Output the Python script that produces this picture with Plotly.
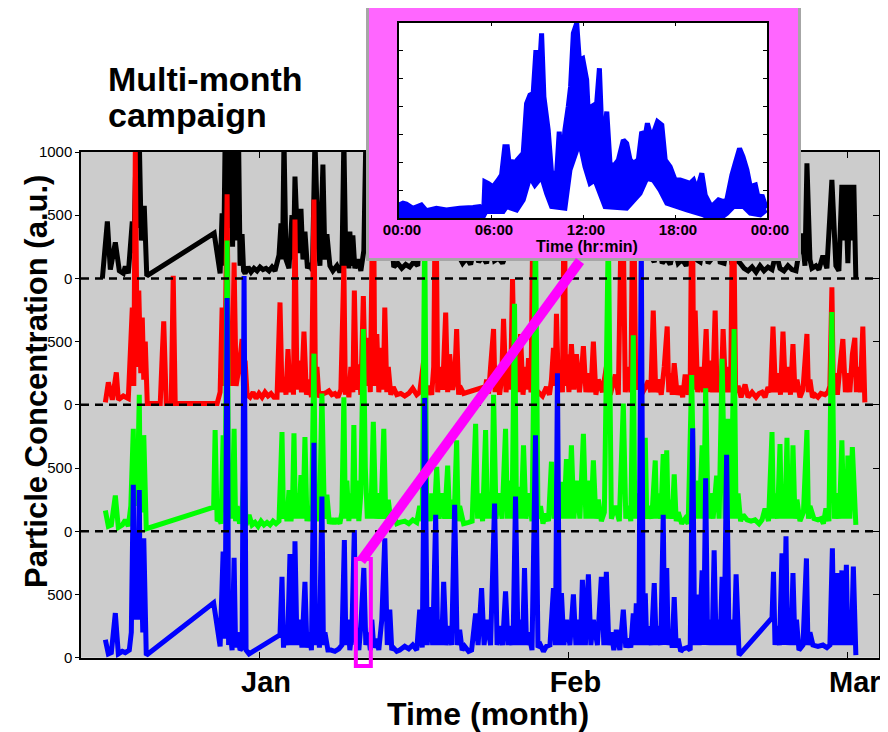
import pandas as pd
import plotly.graph_objects as go

# The page shows the figure with the browser's default 8 px body margin,
# so the figure is 8 px smaller than the window on each leading side.
WIN_W, WIN_H = 888, 732
PAGE_PAD = 8
W, H = WIN_W - PAGE_PAD, WIN_H - PAGE_PAD
JAN1 = pd.Timestamp("2013-01-01")
INSET_DATE = pd.Timestamp("2013-01-11")
FONT = "Liberation Sans, Arial, sans-serif"

# ---------------- data: (day since Jan 1, value in a.u.) ----------------
BLACK = [
    (-15.7, 0), (-15.2, 450), (-14.9, 70), (-14.4, 285), (-14.0, 60), (-13.6, 40), (-13.4, 95), (-13.1, 40),
    (-12.7, 450), (-12.55, 200), (-12.3, 1100), (-12.15, 400), (-12.0, 1100), (-11.8, 300), (-11.5, 575), (-11.25, 20),
    (-4.5, 358), (-3.9, 40), (-3.7, 515), (-3.55, 100), (-3.4, 1100), (-3.25, 300), (-3.1, 1100), (-2.95, 400),
    (-2.8, 1100), (-2.65, 250), (-2.5, 1100), (-2.35, 1100), (-2.2, 300), (-2.05, 1100), (-1.9, 100), (-1.7, 350),
    (-1.55, 60), (-1.4, 40), (-1.1, 90), (-0.8, 50), (-0.5, 80), (-0.2, 60), (0.1, 90), (0.4, 70), (0.7, 80),
    (1.0, 60), (1.3, 90), (1.6, 60), (2.0, 185), (2.2, 435), (2.35, 150), (2.5, 1100), (2.7, 150), (3.0, 80),
    (3.3, 500), (3.45, 150), (3.6, 805), (3.9, 200), (4.2, 550), (4.4, 150), (4.6, 370), (4.85, 80), (5.1, 120),
    (5.35, 60), (5.6, 1100), (5.9, 300), (6.1, 100), (6.4, 900), (6.6, 150), (6.8, 350), (7.1, 100), (7.4, 60),
    (7.8, 100), (8.1, 50), (8.3, 80), (8.5, 1100), (8.7, 100), (8.8, 250), (9.0, 80), (9.1, 370), (9.25, 100),
    (9.4, 340), (9.6, 80), (9.9, 150), (10.2, 60), (10.5, 220), (10.7, 1100), (10.9, 200),
    (11.2, 600), (11.5, 150), (11.8, 700), (12.1, 200), (12.4, 500), (12.8, 150), (13.2, 400), (13.5, 90),
    (13.9, 120), (14.3, 80), (14.7, 110), (15.1, 90), (15.5, 130), (15.9, 100), (16.2, 500), (16.5, 150),
    (16.8, 800), (17.1, 200), (17.4, 600), (17.7, 200), (18.0, 450), (18.4, 180), (18.8, 550), (19.2, 200),
    (19.6, 400), (20.0, 180), (20.4, 120), (20.8, 160), (21.2, 110), (21.6, 250), (22.0, 130), (22.4, 170),
    (22.8, 120), (23.2, 300), (23.6, 140), (24.0, 160), (24.4, 120), (24.8, 200), (25.2, 500), (25.5, 200),
    (25.9, 650), (26.3, 250), (26.7, 450), (27.1, 200), (27.5, 600), (27.9, 230), (28.3, 400), (28.7, 200),
    (29.1, 700), (29.5, 250), (29.9, 500), (30.3, 220), (30.7, 450), (31.1, 250), (31.5, 600), (31.9, 200),
    (32.3, 500), (32.7, 230), (33.1, 400), (33.5, 200), (33.9, 550), (34.3, 250), (34.7, 450), (35.1, 200),
    (35.5, 500), (35.9, 220), (36.3, 600), (36.7, 250), (37.1, 500), (37.5, 200), (37.9, 450), (38.3, 250),
    (38.7, 500), (39.1, 200), (39.6, 130), (40.0, 300), (40.4, 120), (40.8, 160), (41.2, 110), (41.6, 250),
    (42.0, 120), (42.4, 150), (42.8, 100), (43.2, 200), (43.5, 400), (43.8, 150), (44.2, 130), (44.6, 300),
    (45.0, 120), (45.4, 160), (45.8, 350), (46.2, 130), (46.6, 120), (47.0, 300), (47.4, 110), (47.8, 150),
    (48.2, 120), (48.6, 80), (49.0, 60), (49.4, 90), (49.8, 50), (50.2, 100), (50.6, 60), (51.0, 90),
    (51.4, 70), (51.8, 200), (52.2, 80), (52.6, 60), (53.0, 100), (53.4, 70), (53.8, 60),
    (54.4, 355), (54.7, 100), (54.9, 910), (55.2, 150), (55.4, 80), (55.8, 100), (56.1, 70), (56.5, 180),
    (56.9, 80), (57.4, 780), (57.8, 100), (58.1, 60), (58.4, 740), (58.6, 300), (58.75, 740), (59.0, 120),
    (59.2, 740), (59.4, 300), (59.6, 740), (59.8, 0),
]

RED = [
    (-15.4, 20), (-15.1, 178), (-14.7, 40), (-14.3, 257), (-14.1, 40), (-13.6, 70), (-13.1, 50), (-12.7, 770),
    (-12.55, 150), (-12.4, 2000), (-12.2, 300), (-12.05, 905), (-11.85, 250), (-11.7, 690), (-11.55, 200),
    (-11.4, 500), (-11.2, 10), (-9.9, 10), (-9.7, 400), (-9.55, 660), (-9.3, 10), (-8.8, 10), (-8.6, 1020),
    (-8.4, 10), (-4.2, 10), (-3.9, 100), (-3.7, 770), (-3.45, 150), (-3.2, 1665), (-3.05, 200), (-2.9, 520),
    (-2.7, 150), (-2.5, 1125), (-2.3, 150), (-2.0, 300), (-1.7, 520), (-1.55, 120), (-1.4, 350), (-1.2, 80),
    (-0.9, 60), (-0.6, 100), (-0.3, 50), (0.0, 90), (0.3, 60), (0.6, 100), (0.9, 70), (1.2, 90), (1.5, 60),
    (1.8, 60), (2.1, 810), (2.3, 100), (2.5, 220), (2.7, 80), (2.9, 440), (3.1, 100), (3.3, 300), (3.45, 80),
    (3.6, 1465), (3.8, 120), (4.0, 350), (4.25, 100), (4.5, 580), (4.75, 80), (5.0, 200), (5.25, 60),
    (5.5, 1625), (5.65, 120), (5.8, 300), (6.0, 60), (6.2, 90), (6.5, 90), (6.8, 100), (7.0, 110), (7.3, 80),
    (7.6, 90), (7.9, 60), (8.2, 120), (8.5, 1100), (8.65, 80), (8.8, 200), (9.0, 60), (9.2, 300), (9.4, 100),
    (9.55, 905), (9.75, 120), (10.0, 320), (10.2, 80), (10.45, 860), (10.65, 150), (10.8, 400), (10.95, 530),
    (11.15, 100), (11.45, 2000), (11.6, 150), (11.8, 560), (12.0, 100), (12.3, 450), (12.45, 120), (12.6, 770),
    (12.8, 100), (12.95, 300), (13.2, 80), (13.45, 140), (13.8, 80), (14.2, 90), (14.6, 70), (15.0, 90),
    (15.4, 130), (15.8, 80), (16.1, 100), (16.5, 350), (16.75, 80), (17.0, 150), (17.3, 80), (17.5, 300),
    (17.7, 2000), (17.9, 100), (18.1, 300), (18.4, 120), (18.7, 730), (18.9, 100), (19.1, 400), (19.4, 120),
    (19.6, 200), (19.8, 600), (20.0, 80), (20.1, 150), (20.5, 90),
    (22.3, 135), (22.6, 80), (22.8, 200), (23.0, 90), (23.2, 300), (23.5, 600), (23.65, 100), (23.8, 300),
    (24.1, 80), (24.3, 200), (24.5, 680), (24.75, 100), (25.0, 350), (25.2, 120), (25.4, 995), (25.6, 120),
    (25.8, 400), (26.0, 100), (26.2, 560), (26.45, 80), (26.7, 300), (26.85, 120), (27.0, 370), (27.25, 100),
    (27.5, 2000), (27.75, 80), (28.0, 100), (28.4, 70), (28.8, 140), (29.1, 80), (29.3, 200), (29.5, 450),
    (29.65, 150), (29.8, 720), (30.0, 120), (30.2, 300), (30.4, 100), (30.6, 2000), (30.7, 150), (30.8, 400),
    (31.05, 100), (31.3, 480), (31.55, 120), (31.8, 400), (32.1, 100), (32.3, 250), (32.5, 465), (32.75, 100),
    (33.0, 250), (33.25, 100), (33.5, 500), (33.75, 80), (34.0, 200), (34.4, 100), (34.8, 300), (35.2, 80),
    (35.7, 240), (36.0, 80), (36.4, 2000), (36.7, 100), (37.0, 300), (37.25, 100), (37.5, 2000), (37.75, 120),
    (38.0, 300), (38.3, 80), (38.6, 120), (39.0, 190), (39.25, 100), (39.5, 745), (39.75, 100), (40.0, 200),
    (40.3, 80), (40.6, 300), (40.9, 620), (41.05, 100), (41.2, 250), (41.4, 80), (41.6, 330), (41.9, 80),
    (42.2, 150), (42.45, 60), (42.7, 240), (43.0, 80), (43.2, 150), (43.4, 2000), (43.55, 120), (43.7, 745),
    (43.95, 100), (44.2, 300), (44.5, 100), (44.8, 600), (45.0, 100), (45.2, 350), (45.45, 100), (45.7, 745),
    (45.9, 100), (46.1, 200), (46.3, 100), (46.5, 600), (46.75, 100), (47.0, 300), (47.25, 100), (47.5, 2000),
    (47.75, 100), (48.0, 150), (48.3, 60), (48.7, 160), (49.0, 60), (49.4, 100), (49.8, 60), (50.1, 90),
    (50.4, 100), (50.7, 60), (51.0, 140), (51.25, 100), (51.5, 620), (51.75, 100), (52.0, 250), (52.25, 80),
    (52.5, 580), (52.75, 100), (53.0, 300), (53.25, 80), (53.5, 480), (53.7, 100), (53.9, 200), (54.2, 60),
    (54.5, 120), (54.9, 560), (55.05, 100), (55.2, 200), (55.45, 60), (55.7, 80), (56.0, 60), (56.3, 90),
    (56.7, 80), (57.0, 100), (57.2, 150), (57.4, 930), (57.55, 100), (57.7, 250), (57.95, 80), (58.2, 300),
    (58.5, 520), (58.75, 100), (59.0, 250), (59.2, 100), (59.45, 400), (59.7, 530), (59.85, 100), (60.0, 300),
    (60.25, 100), (60.5, 620), (60.7, 20),
]

GREEN = [
    (-15.4, 165), (-15.1, 40), (-14.8, 50), (-14.4, 283), (-14.1, 30), (-13.7, 50), (-13.4, 90), (-13.1, 40),
    (-12.85, 200), (-12.6, 810), (-12.5, 200), (-12.4, 700), (-12.2, 250), (-12.0, 1080), (-11.9, 200),
    (-11.8, 600), (-11.65, 150), (-11.55, 760), (-11.3, 20),
    (-4.55, 190), (-4.4, 800), (-4.2, 80), (-4.0, 100), (-3.8, 60), (-3.6, 760), (-3.4, 150), (-3.2, 2300),
    (-3.05, 150), (-2.9, 300), (-2.7, 100), (-2.5, 810), (-2.35, 80), (-2.2, 200), (-1.95, 60), (-1.7, 150),
    (-1.5, 500), (-1.3, 50), (-1.0, 130), (-0.7, 50), (-0.4, 70), (-0.1, 40), (0.2, 80), (0.5, 50), (0.8, 70),
    (1.1, 50), (1.4, 80), (1.7, 60), (2.0, 80), (2.3, 785), (2.45, 100), (2.6, 200), (2.8, 80), (3.0, 325),
    (3.2, 80), (3.35, 200), (3.5, 775), (3.65, 100), (3.8, 300), (4.0, 100), (4.2, 445), (4.4, 100), (4.6, 745),
    (4.8, 80), (5.0, 200), (5.25, 80), (5.5, 1405), (5.65, 100), (5.8, 300), (6.05, 80), (6.3, 1090),
    (6.55, 100), (6.8, 290), (7.05, 60), (7.3, 100), (7.55, 60), (7.8, 100), (8.1, 60), (8.3, 150), (8.5, 1060),
    (8.65, 100), (8.8, 400), (9.0, 80), (9.2, 300), (9.35, 100), (9.5, 840), (9.65, 100), (9.8, 400), (10.0, 80),
    (10.2, 300), (10.45, 1600), (10.65, 500), (10.85, 100), (11.0, 300), (11.2, 100), (11.45, 865), (11.7, 100),
    (11.95, 300), (12.2, 100), (12.5, 810), (12.7, 100), (12.95, 250), (13.2, 80), (13.45, 150), (13.8, 60),
    (14.1, 70), (14.6, 80), (15.0, 60), (15.4, 90), (15.8, 70), (16.1, 200), (16.35, 80), (16.6, 2400),
    (16.8, 100), (17.0, 200), (17.15, 80), (17.3, 300), (17.55, 100), (17.8, 510), (18.05, 100), (18.3, 300),
    (18.6, 100), (18.9, 520), (19.1, 100), (19.3, 250), (19.55, 100), (19.8, 720), (19.95, 80), (20.1, 200),
    (20.5, 60), (21.0, 70), (21.35, 80), (21.7, 850), (21.9, 100), (22.1, 300), (22.4, 80), (22.7, 800),
    (22.9, 100), (23.1, 300), (23.3, 100), (23.5, 1080), (23.75, 100), (24.0, 300), (24.35, 100), (24.7, 810),
    (24.9, 100), (25.1, 400), (25.35, 100), (25.6, 1800), (25.8, 100), (26.0, 350), (26.25, 100), (26.5, 680),
    (26.75, 100), (27.0, 300), (27.35, 80), (27.7, 2400), (27.95, 100), (28.2, 200), (28.45, 60), (28.7, 140),
    (29.0, 80), (29.3, 550), (29.55, 100), (29.8, 300), (30.05, 100), (30.3, 390), (30.55, 100), (30.8, 570),
    (31.05, 100), (31.3, 680), (31.55, 100), (31.8, 400), (32.15, 100), (32.5, 770), (32.75, 100), (33.0, 400),
    (33.25, 100), (33.5, 560), (33.75, 100), (34.0, 250), (34.3, 80), (34.6, 150), (35.0, 2400), (35.3, 100),
    (35.7, 200), (36.1, 80), (36.5, 1010), (36.75, 100), (37.0, 200), (37.25, 80), (37.5, 1550), (37.65, 100),
    (37.8, 300), (38.0, 100), (38.25, 250), (38.45, 100), (38.7, 740), (38.85, 100), (39.0, 200), (39.35, 100),
    (39.7, 560), (39.85, 100), (40.0, 300), (40.25, 100), (40.5, 610), (40.65, 100), (40.85, 640), (41.0, 100),
    (41.2, 250), (41.4, 100), (41.6, 450), (41.8, 80), (42.0, 150), (42.35, 60), (42.7, 100), (43.0, 60),
    (43.35, 1235), (43.6, 100), (43.85, 400), (44.1, 100), (44.4, 680), (44.55, 100), (44.75, 1130), (45.0, 100),
    (45.2, 300), (45.5, 100), (45.85, 440), (46.1, 100), (46.4, 1365), (46.7, 100), (47.0, 890), (47.3, 100),
    (47.6, 1600), (47.8, 100), (48.0, 300), (48.25, 80), (48.5, 130), (48.9, 90), (49.3, 80), (49.7, 90),
    (50.1, 60), (50.4, 90), (50.7, 180), (51.05, 80), (51.4, 785), (51.55, 100), (51.7, 300), (51.95, 100),
    (52.2, 690), (52.35, 100), (52.5, 300), (52.7, 100), (52.9, 740), (53.05, 100), (53.2, 250), (53.35, 100),
    (53.5, 680), (53.7, 100), (53.9, 250), (54.2, 80), (54.55, 150), (54.9, 800), (55.05, 100), (55.2, 200),
    (55.6, 100), (56.0, 90), (56.3, 100), (56.55, 60), (56.8, 180), (57.1, 80), (57.4, 1735), (57.65, 100),
    (57.9, 300), (58.15, 100), (58.4, 720), (58.6, 100), (58.8, 300), (58.9, 100), (59.0, 600), (59.2, 100),
    (59.45, 665), (59.8, 50),
]

BLUE = [
    (-15.4, 142), (-15.1, 30), (-14.8, 40), (-14.4, 353), (-14.1, 30), (-13.7, 50), (-13.4, 40), (-13.0, 60),
    (-12.8, 200), (-12.6, 1367), (-12.5, 300), (-12.4, 800), (-12.2, 300), (-12.0, 1327), (-11.9, 300),
    (-11.8, 700), (-11.65, 200), (-11.55, 945), (-11.3, 20),
    (-4.55, 434), (-3.9, 90), (-3.6, 840), (-3.4, 150), (-3.2, 2845), (-3.05, 100), (-2.9, 200), (-2.7, 60),
    (-2.5, 790), (-2.35, 80), (-2.2, 200), (-1.9, 60), (-1.7, 80), (-1.5, 3020), (-1.3, 60), (-1.0, 30),
    (2.1, 180), (2.3, 640), (2.45, 80), (2.6, 250), (2.85, 100), (3.1, 820), (3.25, 100), (3.4, 300), (3.5, 100),
    (3.6, 920), (3.8, 100), (4.0, 300), (4.3, 80), (4.6, 600), (4.8, 80), (5.0, 200), (5.25, 60), (5.5, 1700),
    (5.65, 100), (5.8, 300), (6.05, 80), (6.3, 1275), (6.45, 100), (6.6, 200), (6.9, 60), (7.2, 60), (7.6, 50),
    (8.0, 70), (8.3, 100), (8.55, 930), (8.7, 100), (8.9, 300), (9.1, 60), (9.3, 200), (9.55, 1010), (9.7, 100),
    (9.8, 200), (10.0, 60), (10.2, 250), (10.5, 710), (10.7, 100), (10.95, 200), (11.15, 60), (11.3, 300),
    (11.5, 80), (11.8, 150), (12.0, 60), (12.3, 300), (12.6, 945), (12.85, 100), (13.1, 380), (13.3, 60),
    (13.45, 80), (13.8, 50), (14.1, 60), (14.6, 90), (15.0, 70), (15.4, 100), (15.8, 60), (16.1, 380),
    (16.35, 80), (16.6, 2055), (16.85, 100), (17.1, 400), (17.4, 100), (17.7, 1130), (17.9, 100), (18.1, 300),
    (18.3, 100), (18.5, 600), (18.75, 100), (19.0, 250), (19.3, 100), (19.6, 1210), (19.85, 100), (20.1, 220),
    (20.35, 60), (20.6, 90), (21.0, 50), (21.3, 60), (21.7, 350), (21.95, 100), (22.3, 550), (22.55, 100),
    (22.8, 300), (23.2, 100), (23.6, 1220), (23.85, 100), (24.1, 250), (24.4, 100), (24.7, 525), (24.95, 100),
    (25.2, 250), (25.45, 100), (25.7, 1275), (25.95, 100), (26.2, 300), (26.4, 100), (26.6, 710), (26.8, 100),
    (27.0, 200), (27.35, 60), (27.7, 1760), (27.95, 80), (28.2, 100), (28.5, 50), (28.8, 90), (29.15, 100),
    (29.5, 550), (29.7, 100), (29.9, 2250), (30.1, 100), (30.3, 510), (30.55, 100), (30.8, 300), (31.15, 100),
    (31.5, 500), (31.75, 100), (32.0, 300), (32.2, 100), (32.4, 615), (32.7, 100), (33.0, 660), (33.25, 100),
    (33.5, 300), (33.9, 100), (34.3, 640), (34.55, 100), (34.8, 680), (35.05, 100), (35.3, 200), (35.55, 60),
    (35.8, 220), (36.15, 60), (36.5, 380), (36.75, 80), (37.0, 150), (37.25, 80), (37.5, 350), (37.65, 100),
    (37.8, 430), (38.05, 100), (38.3, 3300), (38.5, 100), (38.7, 510), (38.85, 100), (39.0, 250), (39.3, 100),
    (39.6, 590), (39.8, 100), (40.0, 250), (40.25, 100), (40.5, 1130), (40.65, 100), (40.85, 710), (41.0, 100),
    (41.2, 200), (41.4, 80), (41.6, 480), (41.8, 80), (42.0, 150), (42.25, 50), (42.5, 70), (42.9, 80),
    (43.2, 60), (43.45, 1815), (43.65, 100), (43.85, 500), (44.1, 100), (44.4, 690), (44.55, 100), (44.75, 1420),
    (44.95, 100), (45.2, 300), (45.4, 100), (45.6, 850), (45.8, 100), (46.0, 300), (46.2, 100), (46.4, 640),
    (46.6, 100), (46.85, 1605), (47.1, 100), (47.4, 300), (47.6, 100), (47.8, 660), (48.1, 20),
    (51.4, 315), (51.55, 680), (51.7, 100), (51.9, 250), (52.15, 100), (52.4, 825), (52.6, 100), (52.8, 960),
    (52.95, 100), (53.1, 300), (53.3, 100), (53.5, 670), (53.7, 100), (53.85, 300), (54.1, 60), (54.5, 100),
    (54.85, 785), (55.0, 100), (55.2, 200), (55.5, 100), (56.0, 90), (56.5, 100), (56.9, 80), (57.2, 100),
    (57.45, 865), (57.6, 100), (57.9, 670), (58.1, 100), (58.4, 690), (58.6, 100), (58.85, 735), (59.0, 100),
    (59.2, 300), (59.35, 100), (59.55, 720), (59.8, 20),
]

# inset (one day, blue): upper and lower envelope of the dense record
INSET_UP_HOURS = [0.00, 0.26, 0.48, 0.91, 1.46, 1.79, 2.44, 3.09, 3.96, 4.83, 5.27, 5.53, 5.60, 5.81, 6.14,
                  6.47, 6.69, 6.90, 7.06, 7.23, 7.45, 7.56, 7.71, 8.10, 8.32, 8.54, 8.75, 8.93, 9.08, 9.30,
                  9.45, 9.73, 9.95, 10.28, 10.45, 10.61, 10.82, 11.04, 11.19, 11.37, 11.59, 11.76, 11.98,
                  12.24, 12.35, 12.57, 12.89, 13.07, 13.28, 13.55, 13.76, 13.98, 14.31, 14.63, 14.85, 15.07,
                  15.29, 15.61, 15.83, 16.05, 16.20, 16.38, 16.59, 16.86, 17.14, 17.36, 17.68, 18.01, 18.34,
                  18.66, 18.99, 19.21, 19.43, 19.75, 19.97, 20.30, 20.51, 20.84, 21.17, 21.38, 21.71, 21.93,
                  22.21, 22.43, 22.69, 22.91, 23.24, 23.45, 23.67, 23.95]
INSET_UP_VALS = [48, 54, 51, 36, 48, 27, 36, 30, 36, 39, 42, 32, 131, 125, 113,
                 137, 155, 256, 256, 173, 209, 78, 209, 233, 411, 441, 447, 602, 459, 662,
                 435, 316, 161, 161, 310, 173, 316, 400, 471, 662, 698, 566, 572,
                 495, 370, 400, 411, 537, 233, 382, 197, 185, 209, 280, 268, 209,
                 197, 209, 310, 292, 340, 304, 304, 346, 334, 209, 185, 137, 137,
                 131, 125, 137, 101, 161, 83, 48, 48, 66, 60, 66, 155, 197,
                 250, 221, 173, 113, 119, 66, 83, 36]
INSET_LO_HOURS = [0.00, 5.49, 5.66, 6.79, 7.01, 7.67, 8.10, 8.54, 8.86, 9.30, 9.63, 9.95, 10.82, 11.15,
                  11.59, 11.85, 12.13, 12.46, 12.78, 13.11, 13.44, 14.85, 15.72, 16.16, 16.59, 17.03, 17.47,
                  18.77, 19.86, 20.30, 20.95, 21.38, 21.82, 22.47, 22.91, 23.56, 23.95]
INSET_LO_VALS = [4, 6, 24, 24, 42, 30, 66, 149, 119, 149, 89, 42, 36, 173,
                 244, 256, 185, 125, 137, 89, 42, 36, 89, 143, 137, 101, 54,
                 30, 12, 0, 0, 18, 42, 42, 18, 12, 30]

SERIES = [  # name, data, vertical offset of the panel, colour  (drawn in this order)
    ("black", BLACK, 3000, "#000000"),
    ("red", RED, 2000, "#FF0000"),
    ("green", GREEN, 1000, "#00FF00"),
    ("blue", BLUE, 0, "#0000FF"),
]
Y_TICKVALS = [0, 500, 1000, 1500, 2000, 2500, 3000, 3500, 4000]
Y_TICKTEXT = ["0", "500", "0", "500", "0", "500", "0", "500", "1000"]
PANEL_ZEROS = [1000, 2000, 3000]
MONTH_TICKS = ["2013-01-01", "2013-02-01", "2013-03-01"]
MONTH_LABELS = ["Jan", "Feb", "Mar"]
INSET_TICK_HOURS = [0, 6, 12, 18, 24]
INSET_TICK_LABELS = ["00:00", "06:00", "12:00", "18:00", "00:00"]
X_RANGE_DAYS = (-17.84, 62.12)

# ---------------- layout geometry (window pixels) ----------------
MAIN_PX = (81, 879, 152, 657.7)       # left, right, top, bottom
FRAME_PX = (369, 798, 4, 258)
INSET_PX = (399, 767, 22.7, 218.3)


def clamp01(v):
    return min(1.0, max(0.0, v))


def fx(px):
    return (px - PAGE_PAD) / W


def fy(py):
    return (H - (py - PAGE_PAD)) / H


def dom(box):
    l, r, t, b = box
    return [clamp01(fx(l)), clamp01(fx(r))], [clamp01(fy(b)), clamp01(fy(t))]


def days_to_dates(days):
    return JAN1 + pd.to_timedelta(list(days), unit="D")


def day_to_px(day):
    l, r, _, _ = MAIN_PX
    return l + (day - X_RANGE_DAYS[0]) / (X_RANGE_DAYS[1] - X_RANGE_DAYS[0]) * (r - l)


fig = go.Figure()

for name, data, off, col in SERIES:
    d = [p[0] for p in data]
    v = [p[1] + off for p in data]
    fig.add_trace(go.Scatter(x=days_to_dates(d), y=v, mode="lines", name=name,
                             line=dict(color=col, width=5, simplify=False),
                             xaxis="x", yaxis="y", hoverinfo="skip"))

# right-hand inner ticks of the main panel
fig.add_trace(go.Scatter(x=[], y=[], xaxis="x", yaxis="y4", showlegend=False, hoverinfo="skip"))
# pink frame subplot
fig.add_trace(go.Scatter(x=[], y=[], xaxis="x2", yaxis="y2", showlegend=False, hoverinfo="skip"))

inset_up_t = INSET_DATE + pd.to_timedelta(INSET_UP_HOURS, unit="h")
inset_lo_t = INSET_DATE + pd.to_timedelta(INSET_LO_HOURS, unit="h")
fig.add_trace(go.Scatter(x=inset_lo_t, y=INSET_LO_VALS, mode="lines", xaxis="x3", yaxis="y3",
                         line=dict(color="#0000FF", width=5, simplify=False), hoverinfo="skip"))
fig.add_trace(go.Scatter(x=inset_up_t, y=INSET_UP_VALS, mode="lines", xaxis="x3", yaxis="y3",
                         fill="tonexty", fillcolor="#0000FF",
                         line=dict(color="#0000FF", width=5, simplify=False), hoverinfo="skip"))

mx, my = dom(MAIN_PX)
frx, fry = dom(FRAME_PX)
ix, iy = dom(INSET_PX)

axis_common = dict(showgrid=False, zeroline=False, automargin=False)
fig.update_layout(
    width=W, height=H, margin=dict(l=0, r=0, t=0, b=0, autoexpand=False),
    paper_bgcolor="white", plot_bgcolor="white", showlegend=False,
    font=dict(family=FONT, color="black"),
    xaxis=dict(domain=mx, anchor="y", type="date",
               range=list(days_to_dates(X_RANGE_DAYS)),
               tickvals=MONTH_TICKS, ticktext=MONTH_LABELS,
               ticks="inside", ticklen=6, tickwidth=1.2, tickcolor="black",
               showline=True, linecolor="black", linewidth=1.5, mirror="ticks",
               tickfont=dict(size=29, weight="bold", family=FONT), ticklabelshift=7,
               ticklabelstandoff=-2, **axis_common),
    yaxis=dict(domain=my, anchor="x", range=[0, 4000],
               tickvals=Y_TICKVALS, ticktext=Y_TICKTEXT,
               ticks="outside", ticklen=4, tickwidth=1.2, tickcolor="black",
               showline=True, linecolor="black", linewidth=1.5, mirror=True,
               tickfont=dict(size=15, family=FONT), **axis_common),
    yaxis4=dict(overlaying="y", anchor="x", side="right", range=[0, 4000],
                tickvals=Y_TICKVALS, ticks="inside", ticklen=6, tickwidth=1.2, tickcolor="black",
                showticklabels=False, showline=False, **axis_common),
    xaxis2=dict(domain=frx, anchor="y2", range=[0, 1], showticklabels=False, ticks="",
                showline=True, linecolor="#A6A6A6", linewidth=3, mirror=True, **axis_common),
    yaxis2=dict(domain=fry, anchor="x2", range=[0, 1], showticklabels=False, ticks="",
                showline=True, linecolor="#A6A6A6", linewidth=3, mirror=True, **axis_common),
    xaxis3=dict(domain=ix, anchor="y3", type="date",
                range=[INSET_DATE, INSET_DATE + pd.Timedelta(days=1)],
                tickvals=list(INSET_DATE + pd.to_timedelta(INSET_TICK_HOURS, unit="h")),
                ticktext=INSET_TICK_LABELS, ticks="inside", ticklen=4, tickcolor="black",
                showline=True, linecolor="black", linewidth=1.5, mirror="ticks",
                tickfont=dict(size=15, weight="bold", family=FONT), ticklabelshift=3,
                ticklabelstandoff=-3, **axis_common),
    yaxis3=dict(domain=iy, anchor="x3", range=[0, 700], tickvals=[100, 200, 300, 400, 500, 600],
                ticks="inside", ticklen=4, tickcolor="black", showticklabels=False,
                showline=True, linecolor="black", linewidth=1.5, mirror="ticks", **axis_common),
)

shapes = [
    dict(type="rect", xref="paper", yref="paper", x0=mx[0], x1=mx[1], y0=my[0], y1=my[1],
         fillcolor="#CCCCCC", line=dict(width=0), layer="below"),
    dict(type="rect", xref="x2", yref="y2", x0=0, x1=1, y0=0, y1=1,
         fillcolor="#FF66FF", line=dict(width=0), layer="between"),
]
for z in PANEL_ZEROS:
    shapes.append(dict(type="line", xref="paper", yref="y", x0=mx[0], x1=mx[1], y0=z, y1=z,
                       line=dict(color="black", width=2.5, dash="8px,6px"), layer="above"))
# highlighted day in the main panel and the connector to the inset
rx0 = day_to_px(10) - 3
rx1 = day_to_px(11) + 2
shapes.append(dict(type="rect", xref="paper", yref="paper", x0=fx(rx0), x1=fx(rx1), y0=fy(666), y1=fy(559),
                   line=dict(color="#FF00FF", width=4), fillcolor="rgba(0,0,0,0)", layer="above"))
shapes.append(dict(type="line", xref="paper", yref="paper", x0=fx(361), y0=fy(561), x1=fx(580), y1=fy(261),
                   line=dict(color="#FF00FF", width=10), layer="above"))
fig.update_layout(shapes=shapes)

bold = lambda s: dict(family=FONT, size=s, weight="bold", color="black")
annotations = [
    dict(text="Multi-month", x=fx(106), y=fy(79), xref="paper", yref="paper", xanchor="left",
         yanchor="middle", showarrow=False, font=bold(34)),
    dict(text="campaign", x=fx(106), y=fy(115), xref="paper", yref="paper", xanchor="left",
         yanchor="middle", showarrow=False, font=bold(34)),
    dict(text="Particle Concentration (a.u.)", x=fx(36), y=fy(382), xref="paper", yref="paper",
         xanchor="center", yanchor="middle", textangle=-90, showarrow=False, font=bold(31)),
    dict(text="Time (month)", x=fx(488), y=fy(714), xref="paper", yref="paper",
         xanchor="center", yanchor="middle", showarrow=False, font=bold(32)),
    dict(text="Time (hr:min)", x=fx(587), y=fy(246), xref="paper", yref="paper",
         xanchor="center", yanchor="middle", showarrow=False, font=bold(16)),
]
fig.update_layout(annotations=annotations)

fig.write_html("out.html")
